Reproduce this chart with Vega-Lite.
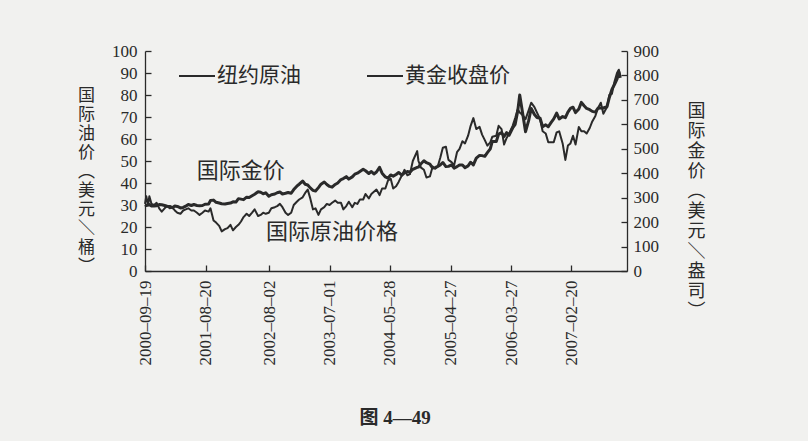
{
  "$schema": "https://vega.github.io/schema/vega-lite/v6.json",
  "background": "#f1f1ef",
  "autosize": {"type": "none"},
  "padding": {"left": 145, "top": 51, "right": 181, "bottom": 170},
  "width": 482,
  "height": 220,
  "config": {
    "view": {"stroke": null},
    "axis": {
      "grid": false,
      "domainColor": "#2a2a2a",
      "domainWidth": 1.3,
      "tickColor": "#2a2a2a",
      "tickWidth": 1.3,
      "tickSize": -6,
      "labelFont": "Liberation Serif",
      "labelFontSize": 17,
      "labelColor": "#2a2a2a",
      "titleFont": "Noto Sans CJK SC",
      "titleColor": "#2a2a2a",
      "titleFontWeight": "normal"
    }
  },
  "title": {
    "text": "图 4—49",
    "orient": "bottom",
    "anchor": "middle",
    "font": "Liberation Serif, Noto Sans CJK SC",
    "fontSize": 19,
    "fontWeight": "bold",
    "color": "#2a2a2a",
    "offset": 44,
    "dx": 9
  },
  "data": {
    "values": [
      {"date": "2000-09-19", "oil": 30.5, "gold": 271},
      {"date": "2000-09-26", "oil": 34.0, "gold": 268},
      {"date": "2000-10-06", "oil": 30.0, "gold": 270},
      {"date": "2000-10-13", "oil": 34.0, "gold": 272},
      {"date": "2000-10-25", "oil": 30.5, "gold": 266},
      {"date": "2000-11-08", "oil": 30.0, "gold": 266},
      {"date": "2000-11-22", "oil": 31.0, "gold": 267},
      {"date": "2000-12-06", "oil": 28.5, "gold": 272},
      {"date": "2000-12-20", "oil": 27.0, "gold": 271},
      {"date": "2001-01-05", "oil": 28.5, "gold": 268},
      {"date": "2001-01-19", "oil": 29.5, "gold": 265},
      {"date": "2001-02-02", "oil": 28.5, "gold": 264},
      {"date": "2001-02-16", "oil": 29.0, "gold": 259},
      {"date": "2001-03-02", "oil": 27.5, "gold": 266},
      {"date": "2001-03-16", "oil": 26.5, "gold": 264},
      {"date": "2001-04-02", "oil": 26.0, "gold": 258},
      {"date": "2001-04-17", "oil": 27.5, "gold": 260},
      {"date": "2001-05-01", "oil": 28.0, "gold": 265},
      {"date": "2001-05-15", "oil": 28.5, "gold": 272},
      {"date": "2001-06-01", "oil": 27.5, "gold": 268},
      {"date": "2001-06-15", "oil": 27.5, "gold": 272},
      {"date": "2001-07-02", "oil": 26.5, "gold": 268},
      {"date": "2001-07-16", "oil": 25.5, "gold": 267},
      {"date": "2001-08-01", "oil": 26.5, "gold": 268},
      {"date": "2001-08-15", "oil": 27.5, "gold": 273},
      {"date": "2001-09-04", "oil": 27.0, "gold": 274},
      {"date": "2001-09-14", "oil": 28.5, "gold": 288},
      {"date": "2001-10-01", "oil": 23.0, "gold": 290},
      {"date": "2001-10-15", "oil": 22.0, "gold": 281},
      {"date": "2001-11-01", "oil": 20.5, "gold": 278},
      {"date": "2001-11-15", "oil": 18.0, "gold": 275},
      {"date": "2001-12-03", "oil": 19.0, "gold": 274},
      {"date": "2001-12-17", "oil": 19.5, "gold": 276},
      {"date": "2002-01-02", "oil": 21.0, "gold": 278},
      {"date": "2002-01-16", "oil": 18.5, "gold": 283},
      {"date": "2002-02-01", "oil": 20.0, "gold": 282},
      {"date": "2002-02-15", "oil": 21.0, "gold": 296},
      {"date": "2002-03-01", "oil": 22.5, "gold": 294},
      {"date": "2002-03-15", "oil": 24.5, "gold": 292},
      {"date": "2002-04-01", "oil": 26.0, "gold": 302},
      {"date": "2002-04-15", "oil": 25.0, "gold": 301},
      {"date": "2002-05-01", "oil": 26.5, "gold": 308},
      {"date": "2002-05-15", "oil": 28.0, "gold": 314},
      {"date": "2002-06-03", "oil": 25.0, "gold": 324},
      {"date": "2002-06-17", "oil": 25.5, "gold": 322},
      {"date": "2002-07-01", "oil": 26.5, "gold": 316},
      {"date": "2002-07-15", "oil": 26.0, "gold": 320},
      {"date": "2002-08-01", "oil": 26.5, "gold": 306},
      {"date": "2002-08-15", "oil": 28.5, "gold": 312},
      {"date": "2002-09-03", "oil": 29.0, "gold": 315},
      {"date": "2002-09-16", "oil": 29.5, "gold": 320},
      {"date": "2002-10-01", "oil": 30.5, "gold": 323},
      {"date": "2002-10-15", "oil": 29.0, "gold": 315},
      {"date": "2002-11-01", "oil": 26.5, "gold": 318},
      {"date": "2002-11-15", "oil": 25.5, "gold": 321},
      {"date": "2002-12-02", "oil": 26.5, "gold": 318},
      {"date": "2002-12-16", "oil": 30.0, "gold": 333},
      {"date": "2003-01-02", "oil": 31.5, "gold": 347},
      {"date": "2003-01-15", "oil": 32.5, "gold": 355},
      {"date": "2003-02-03", "oil": 33.5, "gold": 368},
      {"date": "2003-02-17", "oil": 35.5, "gold": 355},
      {"date": "2003-03-03", "oil": 37.0, "gold": 352},
      {"date": "2003-03-17", "oil": 33.0, "gold": 340},
      {"date": "2003-04-01", "oil": 28.0, "gold": 330},
      {"date": "2003-04-15", "oil": 28.5, "gold": 327},
      {"date": "2003-05-01", "oil": 25.5, "gold": 341},
      {"date": "2003-05-15", "oil": 28.0, "gold": 355},
      {"date": "2003-06-02", "oil": 29.0, "gold": 364},
      {"date": "2003-06-16", "oil": 30.5, "gold": 354},
      {"date": "2003-07-01", "oil": 30.0, "gold": 346},
      {"date": "2003-07-15", "oil": 31.0, "gold": 343},
      {"date": "2003-08-01", "oil": 32.0, "gold": 354},
      {"date": "2003-08-15", "oil": 31.0, "gold": 360},
      {"date": "2003-09-02", "oil": 31.0, "gold": 374},
      {"date": "2003-09-15", "oil": 28.0, "gold": 378},
      {"date": "2003-10-01", "oil": 29.5, "gold": 386},
      {"date": "2003-10-15", "oil": 31.5, "gold": 376},
      {"date": "2003-11-03", "oil": 29.0, "gold": 385},
      {"date": "2003-11-17", "oil": 31.0, "gold": 396},
      {"date": "2003-12-01", "oil": 30.5, "gold": 400},
      {"date": "2003-12-15", "oil": 32.5, "gold": 407},
      {"date": "2004-01-02", "oil": 32.5, "gold": 416},
      {"date": "2004-01-15", "oil": 35.0, "gold": 410},
      {"date": "2004-02-02", "oil": 33.0, "gold": 399},
      {"date": "2004-02-16", "oil": 35.0, "gold": 407},
      {"date": "2004-03-01", "oil": 36.0, "gold": 397},
      {"date": "2004-03-15", "oil": 37.0, "gold": 405},
      {"date": "2004-04-01", "oil": 34.5, "gold": 424},
      {"date": "2004-04-15", "oil": 37.5, "gold": 400},
      {"date": "2004-05-03", "oil": 37.5, "gold": 385},
      {"date": "2004-05-17", "oil": 41.0, "gold": 380},
      {"date": "2004-06-01", "oil": 42.0, "gold": 393},
      {"date": "2004-06-15", "oil": 37.5, "gold": 388},
      {"date": "2004-07-01", "oil": 38.5, "gold": 395},
      {"date": "2004-07-15", "oil": 40.5, "gold": 403},
      {"date": "2004-08-02", "oil": 43.5, "gold": 392},
      {"date": "2004-08-16", "oil": 46.0, "gold": 401},
      {"date": "2004-09-01", "oil": 43.5, "gold": 407},
      {"date": "2004-09-15", "oil": 44.0, "gold": 404},
      {"date": "2004-10-01", "oil": 50.0, "gold": 416},
      {"date": "2004-10-25", "oil": 54.5, "gold": 424},
      {"date": "2004-11-01", "oil": 50.0, "gold": 425},
      {"date": "2004-11-15", "oil": 47.0, "gold": 439},
      {"date": "2004-12-01", "oil": 46.0, "gold": 451},
      {"date": "2004-12-15", "oil": 42.5, "gold": 443},
      {"date": "2005-01-03", "oil": 43.0, "gold": 437},
      {"date": "2005-01-18", "oil": 47.5, "gold": 421},
      {"date": "2005-02-01", "oil": 46.5, "gold": 423},
      {"date": "2005-02-15", "oil": 47.5, "gold": 428},
      {"date": "2005-03-01", "oil": 51.5, "gold": 434},
      {"date": "2005-03-15", "oil": 56.0, "gold": 444},
      {"date": "2005-04-01", "oil": 56.5, "gold": 427},
      {"date": "2005-04-15", "oil": 50.5, "gold": 428},
      {"date": "2005-05-02", "oil": 49.5, "gold": 434},
      {"date": "2005-05-16", "oil": 48.0, "gold": 421},
      {"date": "2005-06-01", "oil": 54.0, "gold": 427},
      {"date": "2005-06-15", "oil": 55.5, "gold": 434},
      {"date": "2005-07-01", "oil": 59.0, "gold": 434},
      {"date": "2005-07-15", "oil": 58.0, "gold": 423},
      {"date": "2005-08-01", "oil": 61.5, "gold": 430},
      {"date": "2005-08-15", "oil": 66.0, "gold": 445},
      {"date": "2005-08-30", "oil": 69.5, "gold": 434},
      {"date": "2005-09-15", "oil": 64.5, "gold": 462},
      {"date": "2005-10-03", "oil": 65.5, "gold": 473},
      {"date": "2005-10-17", "oil": 62.0, "gold": 472},
      {"date": "2005-11-01", "oil": 59.5, "gold": 469},
      {"date": "2005-11-15", "oil": 57.0, "gold": 484},
      {"date": "2005-12-01", "oil": 58.5, "gold": 500},
      {"date": "2005-12-12", "oil": 61.0, "gold": 530},
      {"date": "2006-01-03", "oil": 61.5, "gold": 530},
      {"date": "2006-01-16", "oil": 66.0, "gold": 560},
      {"date": "2006-02-01", "oil": 64.5, "gold": 566},
      {"date": "2006-02-15", "oil": 57.5, "gold": 550},
      {"date": "2006-03-01", "oil": 60.5, "gold": 566},
      {"date": "2006-03-15", "oil": 62.5, "gold": 556},
      {"date": "2006-04-03", "oil": 66.0, "gold": 585},
      {"date": "2006-04-17", "oil": 69.5, "gold": 600},
      {"date": "2006-05-01", "oil": 73.5, "gold": 655},
      {"date": "2006-05-12", "oil": 72.0, "gold": 720},
      {"date": "2006-05-26", "oil": 71.0, "gold": 655},
      {"date": "2006-06-13", "oil": 69.0, "gold": 570},
      {"date": "2006-06-30", "oil": 73.0, "gold": 615},
      {"date": "2006-07-14", "oil": 76.5, "gold": 665},
      {"date": "2006-08-01", "oil": 74.5, "gold": 640},
      {"date": "2006-08-15", "oil": 72.0, "gold": 628},
      {"date": "2006-09-01", "oil": 69.0, "gold": 625},
      {"date": "2006-09-15", "oil": 63.5, "gold": 590},
      {"date": "2006-10-02", "oil": 62.5, "gold": 598},
      {"date": "2006-10-16", "oil": 58.5, "gold": 590},
      {"date": "2006-11-01", "oil": 58.5, "gold": 608},
      {"date": "2006-11-15", "oil": 58.5, "gold": 622},
      {"date": "2006-12-01", "oil": 63.0, "gold": 646},
      {"date": "2006-12-15", "oil": 63.5, "gold": 622},
      {"date": "2007-01-03", "oil": 58.0, "gold": 632},
      {"date": "2007-01-18", "oil": 50.5, "gold": 627},
      {"date": "2007-02-01", "oil": 57.0, "gold": 650},
      {"date": "2007-02-15", "oil": 58.0, "gold": 665},
      {"date": "2007-03-01", "oil": 61.5, "gold": 670},
      {"date": "2007-03-15", "oil": 57.5, "gold": 648},
      {"date": "2007-04-02", "oil": 65.5, "gold": 663},
      {"date": "2007-04-16", "oil": 63.5, "gold": 690},
      {"date": "2007-05-01", "oil": 63.5, "gold": 676},
      {"date": "2007-05-15", "oil": 62.5, "gold": 665},
      {"date": "2007-06-01", "oil": 65.0, "gold": 660},
      {"date": "2007-06-15", "oil": 68.0, "gold": 653},
      {"date": "2007-07-02", "oil": 70.5, "gold": 650},
      {"date": "2007-07-16", "oil": 74.0, "gold": 666},
      {"date": "2007-08-01", "oil": 76.5, "gold": 667},
      {"date": "2007-08-15", "oil": 71.5, "gold": 667},
      {"date": "2007-09-04", "oil": 74.5, "gold": 672},
      {"date": "2007-09-17", "oil": 80.0, "gold": 710},
      {"date": "2007-10-01", "oil": 80.5, "gold": 743},
      {"date": "2007-10-15", "oil": 86.0, "gold": 763},
      {"date": "2007-10-29", "oil": 90.0, "gold": 785},
      {"date": "2007-11-08", "oil": 91.5, "gold": 815},
      {"date": "2007-11-16", "oil": 88.5, "gold": 790}
    ]
  },
  "layer": [
    {
      "mark": {"type": "line", "strokeWidth": 2, "strokeJoin": "round"},
      "encoding": {
        "x": {
          "field": "date",
          "type": "temporal",
          "scale": {"domain": ["2000-09-19", "2007-12-23"]},
          "axis": {
            "title": null,
            "values": [
              {"year": 2000, "month": 9, "date": 19},
              {"year": 2001, "month": 8, "date": 20},
              {"year": 2002, "month": 8, "date": 2},
              {"year": 2003, "month": 7, "date": 1},
              {"year": 2004, "month": 5, "date": 28},
              {"year": 2005, "month": 4, "date": 27},
              {"year": 2006, "month": 3, "date": 27},
              {"year": 2007, "month": 2, "date": 20}
            ],
            "format": "%Y–%m–%d",
            "labelAngle": -90,
            "labelAlign": "right",
            "labelBaseline": "middle",
            "labelPadding": 15,
            "labelFlush": false,
            "labelOverlap": false
          }
        },
        "y": {
          "field": "oil",
          "type": "quantitative",
          "scale": {"domain": [0, 100]},
          "axis": {
            "orient": "left",
            "values": [0, 10, 20, 30, 40, 50, 60, 70, 80, 90, 100],
            "labelPadding": 14,
            "title": ["国", "际", "油", "价", "︵", "美", "元", "＼", "桶", "︶"],
            "titleAngle": 0,
            "titleAlign": "center",
            "titleBaseline": "top",
            "titleX": -59,
            "titleY": 36,
            "titleFontSize": 17,
            "titleLineHeight": 19
          }
        },
        "color": {
          "datum": "纽约原油",
          "type": "nominal",
          "scale": {"domain": ["纽约原油", "黄金收盘价"], "range": ["#2a2a2a", "#2a2a2a"]},
          "legend": {
            "orient": "none",
            "legendX": 33,
            "legendY": 6,
            "direction": "horizontal",
            "title": null,
            "symbolType": "stroke",
            "symbolSize": 1296,
            "symbolStrokeWidth": 2,
            "labelFont": "Noto Sans CJK SC",
            "labelFontSize": 21,
            "labelColor": "#2a2a2a",
            "labelOffset": 1,
            "columnPadding": 62
          }
        }
      }
    },
    {
      "mark": {"type": "line", "strokeWidth": 3, "strokeJoin": "round"},
      "encoding": {
        "x": {"field": "date", "type": "temporal"},
        "y": {
          "field": "gold",
          "type": "quantitative",
          "scale": {"domain": [0, 900]},
          "axis": {
            "orient": "right",
            "values": [0, 100, 200, 300, 400, 500, 600, 700, 800, 900],
            "labelPadding": 12,
            "title": ["国", "际", "金", "价", "︵", "美", "元", "＼", "盎", "司", "︶"],
            "titleAngle": 0,
            "titleAlign": "center",
            "titleBaseline": "top",
            "titleX": 69,
            "titleY": 51,
            "titleFontSize": 18,
            "titleLineHeight": 20
          }
        },
        "color": {"datum": "黄金收盘价", "type": "nominal"}
      }
    },
    {
      "data": {
        "values": [
          {"date": "2002-02-28", "v": 45.5, "label": "国际金价"},
          {"date": "2003-07-14", "v": 17.7, "label": "国际原油价格"}
        ]
      },
      "mark": {"type": "text", "font": "Noto Sans CJK SC", "fontSize": 22, "color": "#2a2a2a", "align": "center", "baseline": "middle"},
      "encoding": {
        "x": {"field": "date", "type": "temporal"},
        "y": {"field": "v", "type": "quantitative", "scale": {"domain": [0, 100]}, "axis": null},
        "text": {"field": "label"}
      }
    }
  ],
  "resolve": {"scale": {"y": "independent"}}
}
